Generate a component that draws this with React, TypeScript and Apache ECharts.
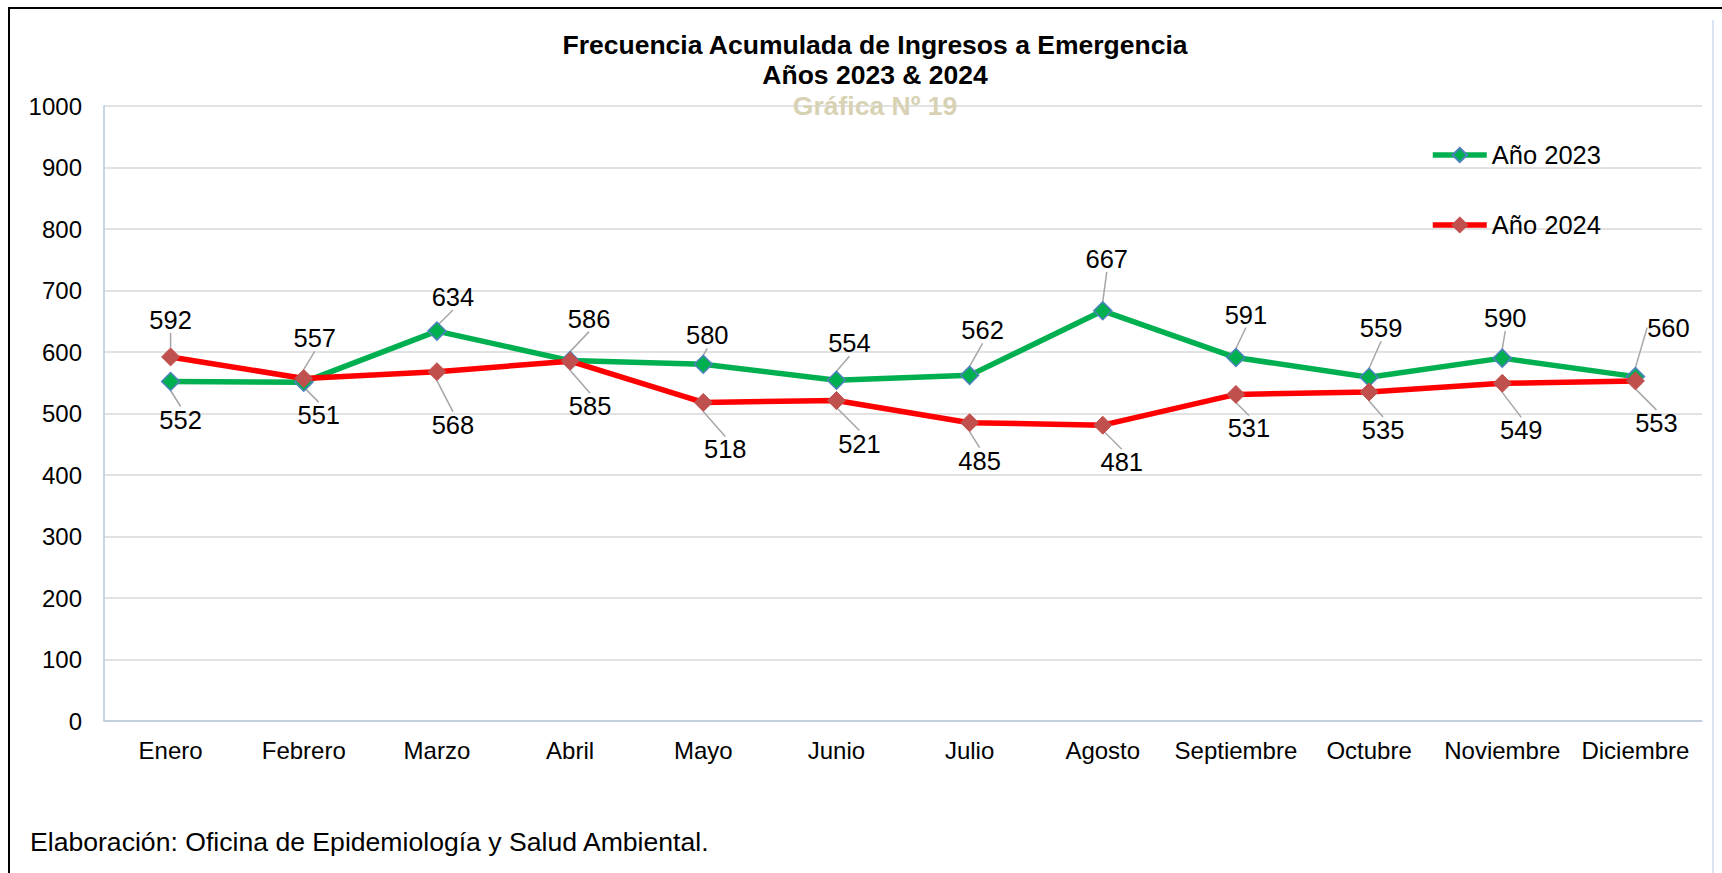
import React, { useEffect, useRef } from 'react';
import * as echarts from 'echarts';

const months = ['Enero', 'Febrero', 'Marzo', 'Abril', 'Mayo', 'Junio', 'Julio', 'Agosto', 'Septiembre', 'Octubre', 'Noviembre', 'Diciembre'];
const serie2023 = [552, 551, 634, 586, 580, 554, 562, 667, 591, 559, 590, 560];
const serie2024 = [592, 557, 568, 585, 518, 521, 485, 481, 531, 535, 549, 553];
const seriesNames = ['Año 2023', 'Año 2024'];
const yMin = 0;
const yMax = 1000;
const yStep = 100;

// label offsets (layout only) relative to marker centre
const off2023: number[][] = [[10, 38], [15, 33], [16, -34], [19, -42], [4, -29], [13, -37], [13, -45], [4, -52], [10, -43], [12, -49], [3, -40], [33, -49]];
const off2024: number[][] = [[0, -37], [11, -40], [16, 53], [20, 45], [22, 47], [23, 43], [10, 38], [19, 37], [13, 34], [14, 38], [19, 47], [21, 42]];

const FONT = '"Liberation Sans", Arial, sans-serif';

export default function App() {
  const ref = useRef<HTMLDivElement>(null);
  useEffect(() => {
    const chart = echarts.init(ref.current!, null, { renderer: 'svg' });
    const labelBase = {
      show: true,
      position: 'inside',
      fontSize: 25.5,
      color: '#000',
      fontFamily: FONT,
      textBorderWidth: 0,
    };
    chart.setOption({
      animation: false,
      backgroundColor: '#fff',
      textStyle: { fontFamily: FONT },
      grid: { left: 104, right: 20, top: 106, bottom: 152, containLabel: false },
      legend: {
        orient: 'vertical',
        left: 1425,
        top: 137,
        itemWidth: 54,
        itemHeight: 18,
        itemGap: 44,
        lineStyle: { width: 5.5 },
        textStyle: { fontSize: 25.5, color: '#000', fontFamily: FONT },
        data: seriesNames,
      },
      xAxis: {
        type: 'category',
        data: months,
        boundaryGap: true,
        axisLine: { show: true, lineStyle: { color: '#b9c8de', width: 1.5 } },
        axisTick: { show: false },
        axisLabel: { fontSize: 24, color: '#000', fontFamily: FONT, margin: 17, interval: 0 },
      },
      yAxis: {
        type: 'value',
        min: yMin,
        max: yMax,
        interval: yStep,
        axisLine: { show: true, lineStyle: { color: '#b9c8de', width: 1.5 } },
        axisTick: { show: false },
        axisLabel: { fontSize: 24, color: '#000', fontFamily: FONT, margin: 22, formatter: (v: number) => String(v) },
        splitLine: { show: true, lineStyle: { color: '#d9d9d9', width: 1.5 } },
      },
      series: [
        {
          name: seriesNames[0],
          type: 'line',
          data: serie2023,
          symbol: 'diamond',
          symbolSize: 18,
          lineStyle: { color: '#00b050', width: 5.5 },
          itemStyle: { color: '#00b050', borderColor: '#4f81bd', borderWidth: 1.5 },
          label: labelBase,
          labelLayout: (p: any) => ({ dx: off2023[p.dataIndex][0], dy: off2023[p.dataIndex][1] }),
          labelLine: { show: true, lineStyle: { color: '#a6a6a6', width: 1.5 } },
          z: 2,
        },
        {
          name: seriesNames[1],
          type: 'line',
          data: serie2024,
          symbol: 'diamond',
          symbolSize: 18,
          lineStyle: { color: '#ff0000', width: 5.5 },
          itemStyle: { color: '#c0504d', borderColor: '#c0504d', borderWidth: 1 },
          label: labelBase,
          labelLayout: (p: any) => ({ dx: off2024[p.dataIndex][0], dy: off2024[p.dataIndex][1] }),
          labelLine: { show: true, lineStyle: { color: '#a6a6a6', width: 1.5 } },
          z: 3,
        },
      ],
      graphic: [
        {
          type: 'rect',
          silent: true,
          z: -1,
          shape: { x: 9, y: 8, width: 1760, height: 900 },
          style: { fill: 'none', stroke: '#000', lineWidth: 2 },
        },
        {
          type: 'line',
          silent: true,
          shape: { x1: 1713, y1: 20, x2: 1713, y2: 873 },
          style: { stroke: '#dbe4f2', lineWidth: 2 },
        },
        {
          type: 'text',
          x: 875,
          y: 45,
          style: {
            text: 'Frecuencia Acumulada de Ingresos a Emergencia',
            fontSize: 26.5,
            fontWeight: 'bold',
            fontFamily: FONT,
            fill: '#000',
            align: 'center',
            verticalAlign: 'middle',
          },
        },
        {
          type: 'text',
          x: 875,
          y: 75,
          style: {
            text: 'Años 2023 & 2024',
            fontSize: 26.5,
            fontWeight: 'bold',
            fontFamily: FONT,
            fill: '#000',
            align: 'center',
            verticalAlign: 'middle',
          },
        },
        {
          type: 'text',
          x: 875,
          y: 106,
          z: 10,
          style: {
            text: 'Gráfica Nº 19',
            fontSize: 26.5,
            fontWeight: 'bold',
            fontFamily: FONT,
            fill: '#d8d2b5',
            align: 'center',
            verticalAlign: 'middle',
          },
        },
        {
          type: 'text',
          x: 30,
          y: 842,
          style: {
            text: 'Elaboración: Oficina de Epidemiología y Salud Ambiental.',
            fontSize: 26.6,
            fontFamily: FONT,
            fill: '#000',
            align: 'left',
            verticalAlign: 'middle',
          },
        },
      ],
    });
    return () => chart.dispose();
  }, []);
  return (
    <div
      ref={ref}
      style={{ position: 'fixed', left: 0, top: 0, width: 1722, height: 873, background: '#fff' }}
    />
  );
}
